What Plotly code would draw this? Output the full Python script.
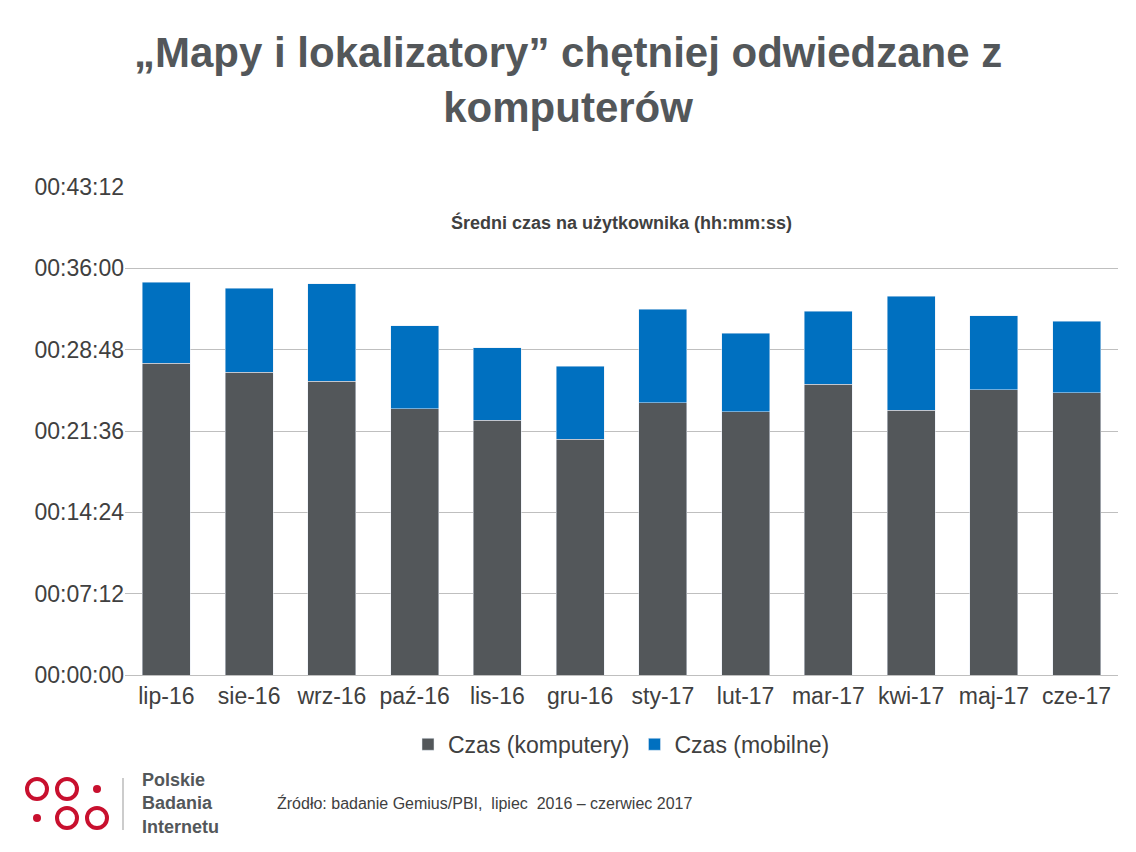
import plotly.graph_objects as go

months = ["lip-16","sie-16","wrz-16","paź-16","lis-16","gru-16","sty-17","lut-17","mar-17","kwi-17","maj-17","cze-17"]
komputery = [1657,1609,1561,1413,1354,1253,1445,1397,1545,1407,1514,1498]
mobilne = [430,446,516,441,383,388,499,419,388,606,393,382]
tick_vals = [0,432,864,1296,1728,2160,2592]
tick_text = ["00:00:00","00:07:12","00:14:24","00:21:36","00:28:48","00:36:00","00:43:12"]

def px(x): return (x-125)/993
def py(y): return (675-y)/488

fig = go.Figure()
fig.add_bar(x=months, y=komputery, name="Czas (komputery)", marker_color="#53575a")
fig.add_bar(x=months, y=mobilne, name="Czas (mobilne)", marker_color="#0070c0")
fig.update_layout(
    barmode="stack", bargap=0.42, width=1128, height=844,
    plot_bgcolor="white", paper_bgcolor="white",
    font=dict(family="Liberation Sans, Arial", color="#404040"),
    margin=dict(l=117, r=18, t=179, b=177, autoexpand=False),
    yaxis=dict(range=[0,2592], tickvals=tick_vals, ticktext=tick_text, automargin=False,
               gridcolor="#bfbfbf", tickfont=dict(size=23, color="#404040"),
               zeroline=False, ticklen=20, tickcolor="white"),
    xaxis=dict(tickfont=dict(size=23, color="#404040"), showline=True, linecolor="#bfbfbf", automargin=False),
    legend=dict(orientation="h", x=0.5, xanchor="center", y=-0.098, yanchor="top",
                traceorder="normal", font=dict(size=23, color="#404040")),
    annotations=[
        dict(text="<b>„Mapy i lokalizatory” chętniej odwiedzane z<br>komputerów</b>", xref="paper", yref="paper",
             x=px(568), xanchor="center", y=py(80), yanchor="middle", showarrow=False,
             font=dict(size=42, color="#53575a")),
        dict(text="<b>Średni czas na użytkownika (hh:mm:ss)</b>", xref="paper", yref="paper",
             x=0.5, y=py(222), yanchor="middle", showarrow=False,
             font=dict(size=18, color="#404040")),
        dict(text="Źródło: badanie Gemius/PBI,  lipiec  2016 – czerwiec 2017", xref="paper", yref="paper",
             x=px(275), xanchor="left", y=py(803), yanchor="middle", showarrow=False,
             font=dict(size=16, color="#404040")),
        dict(text="<b>Polskie<br>Badania<br>Internetu</b>", xref="paper", yref="paper",
             x=px(140), xanchor="left", y=py(803), yanchor="middle", showarrow=False,
             align="left", font=dict(size=18, color="#53575a")),
    ],
)
red = "#c8102e"
for cx, cy, r in [(37,789,10),(67,789,10),(97,789,4),(37,818,4),(67,818,10),(97,818,10)]:
    fig.add_shape(type="circle", xref="paper", yref="paper",
                  x0=px(cx-r), x1=px(cx+r), y0=py(cy+r), y1=py(cy-r),
                  line=dict(color=red, width=0 if r < 6 else 4), fillcolor=red if r < 6 else "white")
fig.add_shape(type="line", xref="paper", yref="paper", x0=px(123), x1=px(123), y0=py(778), y1=py(830),
              line=dict(color="#999", width=1))
fig.write_html("out.html")
